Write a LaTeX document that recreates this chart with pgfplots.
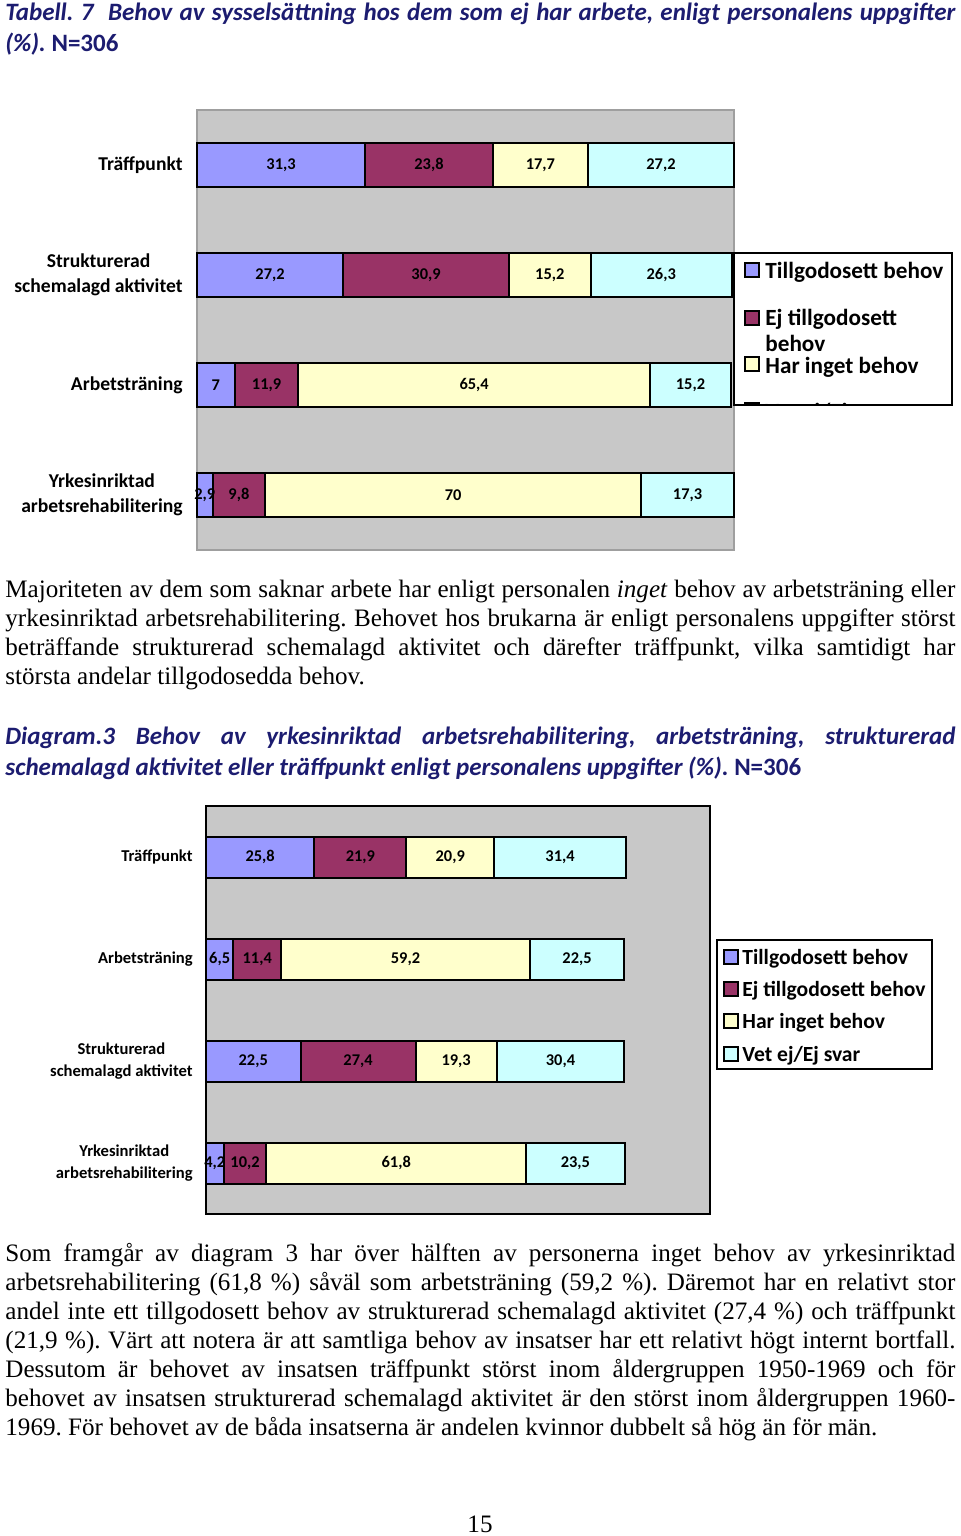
\documentclass[border=0pt]{standalone}
\usepackage{fontspec}
\setmainfont{Liberation Serif}
\newfontfamily\calibri{Carlito}
\usepackage{pgfplots}
\pgfplotsset{compat=1.18}
\usepackage{pgfplotstable}
\frenchspacing

\definecolor{cblue}{HTML}{9999FF}
\definecolor{cplum}{HTML}{993366}
\definecolor{cyell}{HTML}{FFFFCC}
\definecolor{ccyan}{HTML}{CCFFFF}
\definecolor{plotgray}{HTML}{C8C8C8}
\definecolor{headblue}{RGB}{28,28,112}

\newcommand{\headfont}{\fontsize{12.5}{15.5}\selectfont\calibri\bfseries\itshape}
\newcommand{\bodyfont}{\fontsize{12.55}{14.5}\selectfont}

% Tabell 7: categories top to bottom
\pgfplotstableread{
cat a b c d
1 31.3 23.8 17.7 27.2
2 27.2 30.9 15.2 26.3
3 7 11.9 65.4 15.2
4 2.9 9.8 70 17.3
}\tabA

% Diagram 3
\pgfplotstableread{
cat a b c d
1 25.8 21.9 20.9 31.4
2 6.5 11.4 59.2 22.5
3 22.5 27.4 19.3 30.4
4 4.2 10.2 61.8 23.5
}\tabB

\pgfplotsset{
  stackbar/.style={
    xbar stacked, scale only axis, enlargelimits=false, clip=false,
    xmin=0, y dir=reverse, ymin=0.5, ymax=4.5,
    xtick=\empty, ytick={1,2,3,4}, major tick length=0pt,
    axis background/.style={fill=plotgray},
    point meta=explicit,
    nodes near coords,
    nodes near coords align={center},
    every node near coord/.append style={anchor=center, text=black, inner sep=0pt,
      font=\fontsize{8.2}{9}\selectfont\calibri\bfseries},
    /pgf/number format/use comma,
    /pgf/number format/assume math mode=true,
    yticklabel style={align=center, inner sep=0pt, text=black},
  },
  seg/.style={draw=black, line width=1pt, fill=#1},
}

\begin{document}
\begin{tikzpicture}
\useasboundingbox (0,0) rectangle (480pt,-768pt);

% headings and text
\node[anchor=base west, inner sep=0pt, text width=475pt, align=justify, font=\headfont, text=headblue]
  at (2.5pt,-10.5pt) {Tabell. 7\ \ Behov av sysselsättning hos dem som ej har arbete, enligt personalens uppgifter\linebreak
  (\%). \textup{N=306}};

\node[anchor=base west, inner sep=0pt, text width=475pt, align=justify, font=\bodyfont]
  at (2.5pt,-298.5pt) {Majoriteten av dem som saknar arbete har enligt personalen \textit{inget} behov av arbetsträning eller\linebreak
  yrkesinriktad arbetsrehabilitering. Behovet hos brukarna är enligt personalens uppgifter störst\linebreak
  beträffande strukturerad schemalagd aktivitet och därefter träffpunkt, vilka samtidigt har\linebreak
  största andelar tillgodosedda behov.};

\node[anchor=base west, inner sep=0pt, text width=475pt, align=justify, font=\headfont, text=headblue]
  at (2.5pt,-372pt) {Diagram.3 Behov av yrkesinriktad arbetsrehabilitering, arbetsträning, strukturerad\linebreak
  schemalagd aktivitet eller träffpunkt enligt personalens uppgifter (\%). \textup{N=306}};

\node[anchor=base west, inner sep=0pt, text width=475pt, align=justify, font=\bodyfont]
  at (2.5pt,-630.5pt) {Som framgår av diagram 3 har över hälften av personerna inget behov av yrkesinriktad\linebreak
  arbetsrehabilitering (61,8 \%) såväl som arbetsträning (59,2 \%). Däremot har en relativt stor\linebreak
  andel inte ett tillgodosett behov av strukturerad schemalagd aktivitet (27,4 \%) och träffpunkt\linebreak
  (21,9 \%). Värt att notera är att samtliga behov av insatser har ett relativt högt internt bortfall.\linebreak
  Dessutom är behovet av insatsen träffpunkt störst inom åldergruppen 1950-1969 och för\linebreak
  behovet av insatsen strukturerad schemalagd aktivitet är den störst inom åldergruppen 1960-\linebreak
  1969. För behovet av de båda insatserna är andelen kvinnor dubbelt så hög än för män.};

\node[anchor=base, inner sep=0pt, font=\bodyfont] at (240pt,-766pt) {15};

% Tabell 7 chart
\begin{axis}[stackbar,
  at={(98.5pt,-55pt)}, anchor=north west,
  width=268.5pt, height=220pt,
  xmax=100, bar width=22pt,
  axis line style={draw=gray!75, line width=1pt},
  yticklabels={Träffpunkt,{Strukturerad\\schemalagd aktivitet},Arbetsträning,{Yrkesinriktad\\arbetsrehabilitering}},
  yticklabel style={xshift=-7pt, font=\fontsize{9.8}{12.5}\selectfont\calibri\bfseries},
]
\addplot[seg=cblue] table[x=a, y=cat, meta=a] {\tabA};
\addplot[seg=cplum] table[x=b, y=cat, meta=b] {\tabA};
\addplot[seg=cyell] table[x=c, y=cat, meta=c] {\tabA};
\addplot[seg=ccyan] table[x=d, y=cat, meta=d] {\tabA};
\end{axis}

% Tabell 7 legend (cut off at the bottom, as in the original)
\begin{scope}
\clip (367pt,-126.5pt) rectangle (476pt,-202.5pt);
\fill[white] (367pt,-126.5pt) rectangle (476pt,-202.5pt);
\begin{scope}[every node/.style={anchor=base west, inner sep=0pt, font=\fontsize{11.6}{13}\selectfont\calibri\bfseries}]
\draw[fill=cblue, line width=0.6pt] (372.5pt,-131.5pt) rectangle +(7pt,-7pt);
\draw[fill=cplum, line width=0.6pt] (372.5pt,-155.5pt) rectangle +(7pt,-7pt);
\draw[fill=cyell, line width=0.6pt] (372.5pt,-178.5pt) rectangle +(7pt,-7pt);
\draw[fill=ccyan, line width=0.6pt] (372.5pt,-201.5pt) rectangle +(7pt,-7pt);
\node at (382.5pt,-139pt) {Tillgodosett behov};
\node at (382.5pt,-162.5pt) {Ej tillgodosett};
\node at (382.5pt,-175.5pt) {behov};
\node at (382.5pt,-186.5pt) {Har inget behov};
\node at (382.5pt,-209.5pt) {Vet ej/Ej svar};
\end{scope}
\end{scope}
\draw[line width=1pt] (367pt,-126.5pt) rectangle (476pt,-202.5pt);

% Diagram 3 chart
\begin{axis}[stackbar,
  at={(103pt,-403pt)}, anchor=north west,
  width=252pt, height=204pt,
  xmax=120, bar width=20.5pt,
  axis line style={draw=black, line width=1pt},
  yticklabels={Träffpunkt,Arbetsträning,{Strukturerad\\schemalagd aktivitet},{Yrkesinriktad\\arbetsrehabilitering}},
  yticklabel style={xshift=-6.5pt, font=\fontsize{8.3}{11}\selectfont\calibri\bfseries},
]
\addplot[seg=cblue] table[x=a, y=cat, meta=a] {\tabB};
\addplot[seg=cplum] table[x=b, y=cat, meta=b] {\tabB};
\addplot[seg=cyell] table[x=c, y=cat, meta=c] {\tabB};
\addplot[seg=ccyan] table[x=d, y=cat, meta=d] {\tabB};
\end{axis}

% Diagram 3 legend
\draw[fill=white, line width=1pt] (358.5pt,-470pt) rectangle (466pt,-534.5pt);
\begin{scope}[every node/.style={anchor=base west, inner sep=0pt, font=\fontsize{10.8}{12}\selectfont\calibri\bfseries}]
\draw[fill=cblue, line width=0.6pt] (362pt,-475pt) rectangle +(7pt,-7pt);
\draw[fill=cplum, line width=0.6pt] (362pt,-491pt) rectangle +(7pt,-7pt);
\draw[fill=cyell, line width=0.6pt] (362pt,-507pt) rectangle +(7pt,-7pt);
\draw[fill=ccyan, line width=0.6pt] (362pt,-523.5pt) rectangle +(7pt,-7pt);
\node at (371pt,-482pt) {Tillgodosett behov};
\node at (371pt,-498pt) {Ej tillgodosett behov};
\node at (371pt,-514pt) {Har inget behov};
\node at (371pt,-530.5pt) {Vet ej/Ej svar};
\end{scope}
\end{tikzpicture}
\end{document}
